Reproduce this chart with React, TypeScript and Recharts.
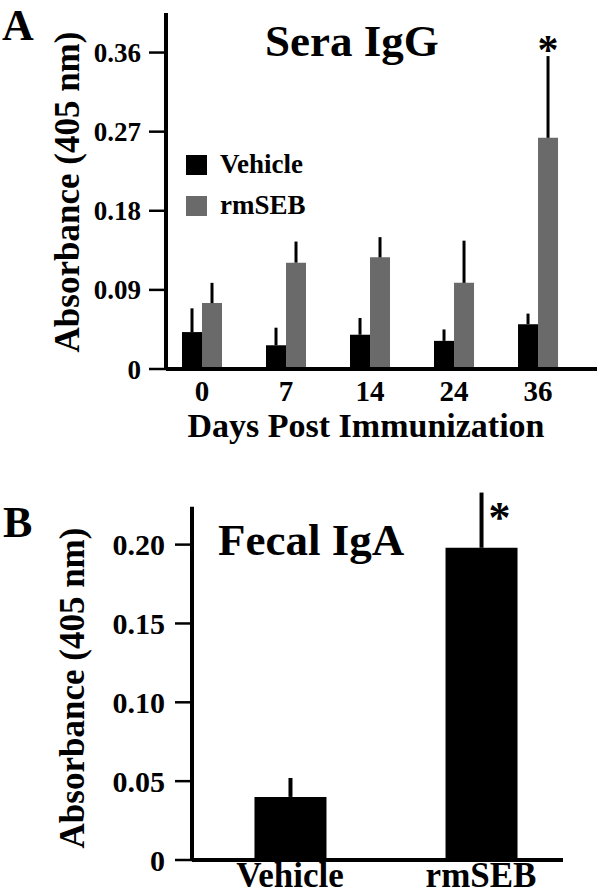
import React from 'react';
import { BarChart, Bar, XAxis, YAxis, ErrorBar, Legend, LabelList, ReferenceLine } from 'recharts';

const FONT = "'Liberation Serif', 'Times New Roman', Times, serif";

// Panel A - sera IgG
const days = ['0', '7', '14', '24', '36'];
const seraVehicle = [0.042, 0.027, 0.039, 0.032, 0.051];
const seraVehicleErr = [0.027, 0.02, 0.019, 0.013, 0.012];
const seraRmseb = [0.075, 0.121, 0.127, 0.098, 0.263];
const seraRmsebErr = [0.023, 0.024, 0.023, 0.048, 0.093];
const seraSig = ['', '', '', '', '*'];
const seraTicks = [0, 0.09, 0.18, 0.27, 0.36];

// Panel B - fecal IgA
const fecalGroups = ['Vehicle', 'rmSEB'];
const fecalValues = [0.04, 0.198];
const fecalErr = [0.012, 0.035];
const fecalSig = ['', '*'];
const fecalTicks = [0, 0.05, 0.1, 0.15, 0.2];

const seraData = days.map((d, i) => ({
  idx: i,
  day: d,
  vehicle: seraVehicle[i],
  vehicleErr: [0, seraVehicleErr[i]],
  rmseb: seraRmseb[i],
  rmsebErr: [0, seraRmsebErr[i]],
  sig: seraSig[i],
}));

const fecalData = fecalGroups.map((g, i) => ({
  idx: i,
  group: g,
  value: fecalValues[i],
  err: [0, fecalErr[i]],
  sig: fecalSig[i],
}));

const fmt = (v: number) => (v === 0 ? '0' : v.toFixed(2));
const axisLine = { stroke: '#000', strokeWidth: 4 };
const tickLine = { stroke: '#000', strokeWidth: 2.5 };

const yTitle = (x: number, y: number) => () => (
  <text
    x={x}
    y={y}
    transform={`rotate(-90, ${x}, ${y})`}
    textAnchor="middle"
    fill="#000"
    fontFamily={FONT}
    fontWeight="bold"
    fontSize={35}
  >
    Absorbance (405 nm)
  </text>
);

const renderLegend = (props: any) => (
  <div>
    {(props.payload || []).map((e: any, i: number) => (
      <div key={i} style={{ display: 'flex', alignItems: 'center', height: 41 }}>
        <span style={{ display: 'inline-block', width: 21, height: 20, background: e.color }} />
        <span style={{ marginLeft: 13, fontFamily: FONT, fontWeight: 'bold', fontSize: 27, color: '#000' }}>
          {e.value}
        </span>
      </div>
    ))}
  </div>
);

// star placed just above the error whisker
const starLabel = (vals: number[], errs: number[], dx: number, dy: number, size: number) => (p: any) => {
  if (p.value !== '*') return null;
  const errPx = (p.height * errs[p.index]) / vals[p.index];
  return (
    <text
      x={p.x + p.width / 2 + dx}
      y={p.y - errPx + dy}
      textAnchor="middle"
      fill="#000"
      fontFamily={FONT}
      fontWeight="bold"
      fontSize={size}
    >
      *
    </text>
  );
};

export default function App() {
  return (
    <div style={{ position: 'absolute', left: 0, top: 0, width: 600, height: 895, background: '#fff' }}>
      <div style={{ position: 'absolute', left: 0, top: 0 }}>
        <BarChart width={600} height={450} data={seraData} margin={{ top: 13, right: 3, left: 0, bottom: 0 }} barGap={0}>
          <XAxis
            type="number"
            dataKey="idx"
            domain={[-0.4286, 4.702]}
            ticks={[0, 1, 2, 3, 4]}
            tickFormatter={(i: number) => days[i]}
            height={81}
            axisLine={axisLine}
            tickLine={false}
            tickSize={0}
            tickMargin={11}
            tick={{ fill: '#000', fontSize: 29, fontWeight: 'bold', fontFamily: FONT }}
            label={{
              content: () => (
                <text x={366} y={437} textAnchor="middle" fill="#000" fontFamily={FONT} fontWeight="bold" fontSize={34}>
                  Days Post Immunization
                </text>
              ),
            }}
          />
          <YAxis
            type="number"
            domain={[0, 0.405]}
            ticks={seraTicks}
            tickFormatter={fmt}
            width={166}
            axisLine={axisLine}
            tickLine={tickLine}
            tickSize={17}
            tickMargin={8}
            tick={{ fill: '#000', fontSize: 27, fontWeight: 'bold', fontFamily: FONT }}
            label={{ content: yTitle(79, 192) }}
          />
          <Legend layout="vertical" align="center" verticalAlign="middle" wrapperStyle={{ left: 186, top: 144, width: 'auto' }} content={renderLegend} />
          <Bar dataKey="vehicle" name="Vehicle" fill="#000" barSize={20} isAnimationActive={false}>
            <ErrorBar dataKey="vehicleErr" width={0} stroke="#000" strokeWidth={3} />
          </Bar>
          <Bar dataKey="rmseb" name="rmSEB" fill="#6a6a6a" barSize={20} isAnimationActive={false}>
            <ErrorBar dataKey="rmsebErr" width={0} stroke="#000" strokeWidth={3} />
            <LabelList dataKey="sig" content={starLabel(seraRmseb, seraRmsebErr, 0, 8, 42)} />
          </Bar>
        </BarChart>
      </div>

      <div style={{ position: 'absolute', left: 0, top: 470 }}>
        <BarChart width={600} height={425} data={fecalData} margin={{ top: 21, right: 37, left: 0, bottom: 0 }}>
          <XAxis
            type="number"
            dataKey="idx"
            domain={[-0.513, 1.429]}
            ticks={[0, 1]}
            tickFormatter={(i: number) => fecalGroups[i]}
            height={35}
            axisLine={axisLine}
            tickLine={false}
            tickSize={0}
            tickMargin={2}
            tick={{ fill: '#000', fontSize: 35, fontWeight: 'bold', fontFamily: FONT }}
          />
          <YAxis
            type="number"
            domain={[0, 0.234]}
            ticks={fecalTicks}
            tickFormatter={fmt}
            width={192}
            axisLine={false}
            tickLine={tickLine}
            tickSize={17}
            tickMargin={10}
            tick={{ fill: '#000', fontSize: 30, fontWeight: 'bold', fontFamily: FONT }}
            label={{ content: yTitle(84, 218) }}
          />
          <ReferenceLine
            segment={[{ x: -0.513, y: 0 }, { x: -0.513, y: 0.224 }]}
            stroke="#000"
            strokeWidth={4}
            ifOverflow="visible"
          />
          <Bar dataKey="value" fill="#000" barSize={72} isAnimationActive={false}>
            <ErrorBar dataKey="err" width={0} stroke="#000" strokeWidth={4} />
            <LabelList dataKey="sig" content={starLabel(fecalValues, fecalErr, 18, 39, 44)} />
          </Bar>
        </BarChart>
      </div>

      <svg width={600} height={895} style={{ position: 'absolute', left: 0, top: 0, pointerEvents: 'none' }}>
        <g fill="#000" fontFamily={FONT} fontWeight="bold">
          <text x={2} y={40} fontSize={44}>A</text>
          <text x={265} y={56} fontSize={45}>Sera IgG</text>
          <text x={3} y={537} fontSize={44}>B</text>
          <text x={218} y={555} fontSize={45}>Fecal IgA</text>
        </g>
      </svg>
    </div>
  );
}
